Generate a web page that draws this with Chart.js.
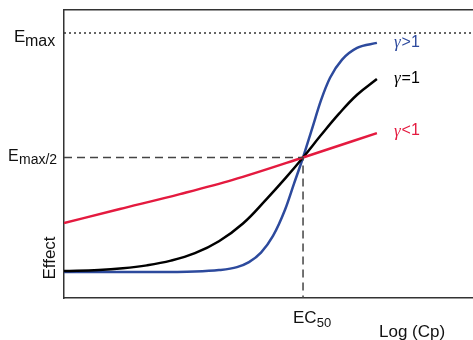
<!DOCTYPE html>
<html>
<head>
<meta charset="utf-8">
<script src="https://cdn.jsdelivr.net/npm/chart.js@4"></script>
<style>
  html, body { margin: 0; padding: 0; background: #fff; }
  #wrap { width: 473px; height: 340px; }
</style>
</head>
<body>
<div id="wrap"><canvas id="myChart"></canvas></div>
<script>
// log concentration (EC50 at 0) and effect as a fraction of Emax
const xMin = -3.98, xMax = 2.83;
const yMin = -0.064, yMax = 1.092;
const ec50 = 0;

const blueX = [-3.98, -2.5, -1.8, -1.4, -1.1, -0.9, -0.7, -0.5, -0.3, -0.15, 0, 0.15, 0.3, 0.45, 0.65, 0.9, 1.23];
const blueY = [0.04, 0.04, 0.042, 0.048, 0.06, 0.08, 0.118, 0.185, 0.29, 0.395, 0.5, 0.615, 0.73, 0.82, 0.893, 0.94, 0.96];

const blackX = [-3.98, -3.4, -3.0, -2.6, -2.2, -1.8, -1.4, -1.0, -0.6, -0.3, 0, 0.3, 0.6, 0.9, 1.23];
const blackY = [0.044, 0.048, 0.055, 0.067, 0.086, 0.116, 0.164, 0.235, 0.335, 0.415, 0.5, 0.59, 0.676, 0.752, 0.815];

const redX = [-3.98, -3.05, -2.05, -1.17, 0, 1.23];
const redY = [0.237, 0.293, 0.353, 0.41, 0.5, 0.598];

const emaxX = [xMin, xMax];
const emaxY = [1, 1];
const halfX = [xMin, ec50, ec50];
const halfY = [0.5, 0.5, yMin];

const pts = (xs, ys) => xs.map((x, i) => ({ x: x, y: ys[i] }));

const BLUE = "#2d4a9d";
const RED = "#e41a3f";
const FONT = "'Liberation Sans', Arial, sans-serif";

const labels = {
  id: "labels",
  afterDraw(chart) {
    const ctx = chart.ctx;
    const xs = chart.scales.x, ys = chart.scales.y;
    ctx.save();
    ctx.fillStyle = "#111";
    ctx.textBaseline = "alphabetic";
    ctx.textAlign = "left";

    // E_max
    let y = ys.getPixelForValue(1);
    ctx.font = "17px " + FONT;
    ctx.fillText("E", 14, y + 9);
    ctx.font = "16px " + FONT;
    ctx.fillText("max", 25, y + 13);

    // E_max/2
    y = ys.getPixelForValue(0.5);
    ctx.font = "16px " + FONT;
    ctx.fillText("E", 8, y + 4);
    ctx.font = "14px " + FONT;
    ctx.fillText("max/2", 19, y + 7);

    // EC_50
    const xe = xs.getPixelForValue(ec50);
    ctx.font = "17px " + FONT;
    ctx.fillText("EC", xe - 10, 323);
    const w = ctx.measureText("EC").width;
    ctx.font = "13px " + FONT;
    ctx.fillText("50", xe - 10 + w, 327);

    // axis titles
    ctx.font = "17px " + FONT;
    ctx.fillText("Log (Cp)", 379, 337);
    ctx.save();
    ctx.translate(55, 258);
    ctx.rotate(-Math.PI / 2);
    ctx.textAlign = "center";
    ctx.fillText("Effect", 0, 0);
    ctx.restore();

    // gamma labels at curve ends
    ctx.textBaseline = "middle";
    const tags = [
      ["\u03b3>1", BLUE, blueX, blueY, 0],
      ["\u03b3=1", "#000", blackX, blackY, 0],
      ["\u03b3<1", RED, redX, redY, -2]
    ];
    tags.forEach(([t, c, ax, ay, dy]) => {
      const n = ax.length - 1;
      const px = xs.getPixelForValue(ax[n]) + 17;
      const py = ys.getPixelForValue(ay[n]) + dy;
      ctx.fillStyle = c;
      ctx.font = "italic 17px 'Liberation Serif', serif";
      ctx.fillText("\u03b3", px, py);
      const gw = ctx.measureText("\u03b3").width;
      ctx.font = "16px " + FONT;
      ctx.fillText(t.slice(1), px + gw + 1, py);
    });
    ctx.restore();
  }
};

new Chart("myChart", {
  type: "line",
  data: {
    datasets: [{
      data: pts(emaxX, emaxY),
      borderColor: "#333",
      borderWidth: 1.5,
      borderDash: [2, 3],
      pointRadius: 0
    }, {
      data: pts(halfX, halfY),
      borderColor: "#444",
      borderWidth: 1.5,
      borderDash: [8, 5],
      pointRadius: 0
    }, {
      data: pts(redX, redY),
      borderColor: RED,
      borderWidth: 2.5,
      pointRadius: 0,
      cubicInterpolationMode: "monotone"
    }, {
      data: pts(blackX, blackY),
      borderColor: "#000",
      borderWidth: 2.5,
      pointRadius: 0,
      tension: 0.4
    }, {
      data: pts(blueX, blueY),
      borderColor: BLUE,
      borderWidth: 2.5,
      pointRadius: 0,
      cubicInterpolationMode: "monotone"
    }]
  },
  options: {
    responsive: true,
    maintainAspectRatio: false,
    animation: false,
    layout: { padding: { left: 64, top: 10, right: 0, bottom: 42 } },
    scales: {
      x: {
        type: "linear", min: xMin, max: xMax,
        grid: { display: false },
        ticks: { display: false },
        border: { color: "#333", width: 1.5 },
        afterFit: (s) => { s.height = 0; }
      },
      xTop: {
        type: "linear", position: "top", min: xMin, max: xMax,
        grid: { display: false },
        ticks: { display: false },
        border: { color: "#333", width: 1.5 },
        afterFit: (s) => { s.height = 0; }
      },
      y: {
        min: yMin, max: yMax,
        grid: { display: false },
        ticks: { display: false },
        border: { color: "#333", width: 1.5 },
        afterFit: (s) => { s.width = 0; }
      }
    },
    plugins: {
      legend: { display: false },
      tooltip: { enabled: false }
    }
  },
  plugins: [labels]
});
</script>
</body>
</html>
